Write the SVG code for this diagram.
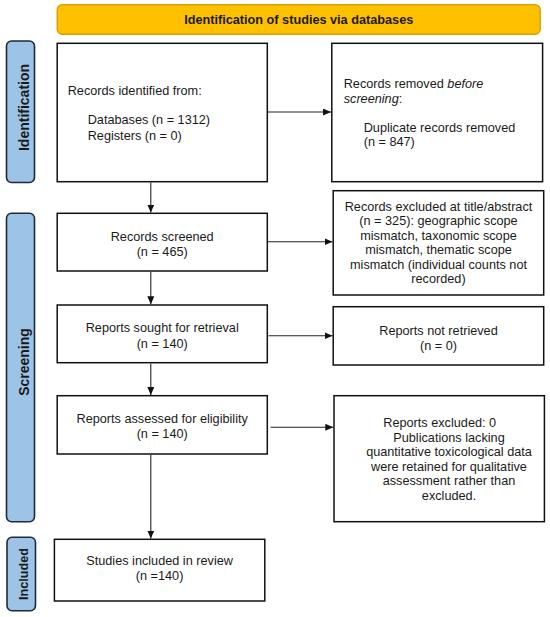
<svg xmlns="http://www.w3.org/2000/svg" width="550" height="617" viewBox="0 0 550 617">
<style>
text{font-family:"Liberation Sans",Arial,sans-serif;font-size:12.7px;fill:#1a1a1a}
.box{fill:#fff;stroke:#111;stroke-width:1.5}
.side{fill:#9dc3e6;stroke:#1e2a38;stroke-width:1.6}
.sl{font-weight:bold;font-size:14px}
.c{text-anchor:middle}
.conn line{stroke:#222;stroke-width:1.1}
</style>
<defs>
<marker id="ah" markerUnits="userSpaceOnUse" markerWidth="9" markerHeight="8" refX="8" refY="3.5" orient="auto">
<path d="M0,0 L8,3.5 L0,7 z" fill="#111"/>
</marker>
</defs>
<rect width="550" height="617" fill="#fff"/>

<g id="banner">
<rect x="57.2" y="4.7" width="483" height="29.6" rx="5" fill="#ffc000" stroke="#d9a200" stroke-width="1.4"/>
<text x="298.7" y="24.3" class="c" font-weight="bold">Identification of studies via databases</text>
</g>

<g id="side-identification">
<rect x="6.5" y="41" width="28" height="141.5" rx="5" class="side"/>
<text class="sl c" transform="translate(28.7,107.5) rotate(-90)">Identification</text>
</g>
<g id="side-screening">
<rect x="6.5" y="213.3" width="28" height="308.4" rx="5" class="side"/>
<text class="sl c" transform="translate(28.7,362) rotate(-90)">Screening</text>
</g>
<g id="side-included">
<rect x="7" y="537.3" width="28.5" height="73.4" rx="5" class="side"/>
<text class="c" font-weight="bold" font-size="11px" transform="translate(28.3,574) rotate(-90)">Included</text>
</g>

<g id="records-identified">
<rect x="57.2" y="43.3" width="210.1" height="138.4" class="box"/>
<text x="67.7" y="94.5">Records identified from:</text>
<text x="87.7" y="124">Databases (n = 1312)</text>
<text x="87.7" y="139.5">Registers (n = 0)</text>
</g>

<g id="records-removed">
<rect x="331.8" y="43.3" width="210.8" height="138.4" class="box"/>
<text x="343.7" y="88">Records removed <tspan font-style="italic">before</tspan></text>
<text x="343.7" y="102.5"><tspan font-style="italic">screening</tspan>:</text>
<text x="363.7" y="132">Duplicate records removed</text>
<text x="363.7" y="146">(n = 847)</text>
</g>

<g id="records-screened">
<rect x="57.2" y="213.3" width="210.1" height="57.7" class="box"/>
<text x="162.2" y="240.5" class="c">Records screened</text>
<text x="162.2" y="255.5" class="c">(n = 465)</text>
</g>

<g id="records-excluded">
<rect x="333.2" y="190.7" width="210.5" height="104.3" class="box"/>
<text x="438.5" y="211" class="c">Records excluded at title/abstract</text>
<text x="438.5" y="225.4" class="c">(n = 325): geographic scope</text>
<text x="438.5" y="239.8" class="c">mismatch, taxonomic scope</text>
<text x="438.5" y="254.2" class="c">mismatch, thematic scope</text>
<text x="438.5" y="268.6" class="c">mismatch (individual counts not</text>
<text x="438.5" y="283" class="c">recorded)</text>
</g>

<g id="reports-sought">
<rect x="57.2" y="305" width="210.1" height="57.7" class="box"/>
<text x="162.2" y="332" class="c">Reports sought for retrieval</text>
<text x="162.2" y="348" class="c">(n = 140)</text>
</g>

<g id="reports-not-retrieved">
<rect x="333.2" y="306.7" width="210.5" height="58.3" class="box"/>
<text x="438.5" y="334.5" class="c">Reports not retrieved</text>
<text x="438.5" y="349.5" class="c">(n = 0)</text>
</g>

<g id="reports-assessed">
<rect x="57.2" y="395.7" width="210.1" height="58.3" class="box"/>
<text x="162.2" y="423" class="c">Reports assessed for eligibility</text>
<text x="162.2" y="438" class="c">(n = 140)</text>
</g>

<g id="reports-excluded">
<rect x="334" y="395.7" width="210.4" height="126" class="box"/>
<text x="439.7" y="427" class="c">Reports excluded: 0</text>
<text x="449" y="441.5" class="c">Publications lacking</text>
<text x="449" y="456" class="c">quantitative toxicological data</text>
<text x="449" y="470.5" class="c">were retained for qualitative</text>
<text x="449" y="485" class="c">assessment rather than</text>
<text x="449" y="499.5" class="c">excluded.</text>
</g>

<g id="studies-included">
<rect x="54.4" y="539.3" width="210.4" height="61.7" class="box"/>
<text x="159.6" y="565" class="c">Studies included in review</text>
<text x="159.6" y="580" class="c">(n =140)</text>
</g>

<g id="connectors" class="conn">
<line x1="268" y1="112" x2="331" y2="112" marker-end="url(#ah)"/>
<line x1="150.8" y1="182.5" x2="150.8" y2="212.5" marker-end="url(#ah)"/>
<line x1="268" y1="241.7" x2="332.5" y2="241.7" marker-end="url(#ah)"/>
<line x1="150.8" y1="271.8" x2="150.8" y2="304.3" marker-end="url(#ah)"/>
<line x1="268.5" y1="335.7" x2="332.5" y2="335.7" marker-end="url(#ah)"/>
<line x1="150.8" y1="363.5" x2="150.8" y2="395" marker-end="url(#ah)"/>
<line x1="270.5" y1="427.3" x2="333.3" y2="427.3" marker-end="url(#ah)"/>
<line x1="150.8" y1="454.8" x2="150.8" y2="538.6" marker-end="url(#ah)"/>
</g>
</svg>
